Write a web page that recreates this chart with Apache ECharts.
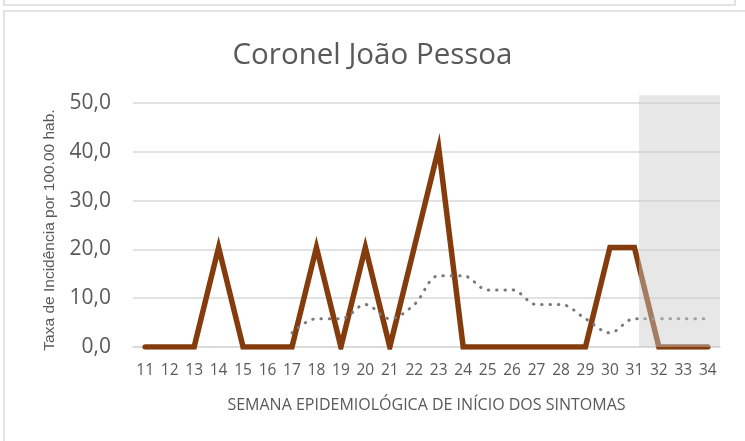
<!DOCTYPE html>
<html>
<head>
<meta charset="utf-8">
<script src="https://cdn.jsdelivr.net/npm/echarts@6/dist/echarts.min.js"></script>
<style>
  html, body { margin: 0; padding: 0; background: #ffffff; }
  #chart { width: 745px; height: 441px; }
</style>
</head>
<body>
<div id="chart"></div>
<script>
// Epidemiological weeks (x axis)
const weeks = ['11','12','13','14','15','16','17','18','19','20','21','22','23','24','25','26','27','28','29','30','31','32','33','34'];

// Weekly incidence rate per 100.000 inhabitants
const incidence = [0, 0, 0, 20.4, 0, 0, 0, 20.4, 0, 20.4, 0, 20.4, 40.8, 0, 0, 0, 0, 0, 0, 20.4, 20.4, 0, 0, 0];

// 7-week moving average (first six weeks have no value)
const movingAvg = [null, null, null, null, null, null, 2.9, 5.8, 5.8, 8.7, 5.8, 8.7, 14.6, 14.6, 11.7, 11.7, 8.7, 8.7, 5.8, 2.9, 5.8, 5.8, 5.8, 5.8];

// Y axis ticks
const yTicks = [0, 10, 20, 30, 40, 50];

// Weeks still under review (shaded band)
const shadeFrom = '31';
const shadeTop = 51.6;

const chart = echarts.init(document.getElementById('chart'), null, { renderer: 'canvas' });

const option = {
  animation: false,
  backgroundColor: '#ffffff',
  title: {
    text: 'Coronel João Pessoa',
    left: 'center',
    top: 36,
    textStyle: {
      fontFamily: 'Open Sans',
      fontSize: 29.5,
      fontWeight: 'normal',
      color: '#595959'
    }
  },
  grid: { left: 133, right: 25, top: 103, bottom: 94 },
  xAxis: {
    type: 'category',
    data: weeks,
    boundaryGap: true,
    name: 'SEMANA EPIDEMIOLÓGICA DE INÍCIO DOS SINTOMAS',
    nameLocation: 'middle',
    nameGap: 50,
    nameTextStyle: { fontFamily: 'Open Sans', fontSize: 16, color: '#595959' },
    axisLine: { show: true, lineStyle: { color: '#d9d9d9', width: 1.5 } },
    axisTick: { show: false },
    axisLabel: { interval: 0, margin: 16, fontFamily: 'Open Sans', fontSize: 15.5, color: '#595959' },
    splitLine: { show: false }
  },
  yAxis: {
    type: 'value',
    min: yTicks[0],
    max: yTicks[yTicks.length - 1],
    interval: 10,
    name: 'Taxa de Incidência por 100.00 hab.',
    nameLocation: 'middle',
    nameGap: 75,
    nameTextStyle: { fontFamily: 'Liberation Sans', fontSize: 15.5, color: '#595959', padding: [0, 10, 0, 0] },
    axisLine: { show: false },
    axisTick: { show: false },
    axisLabel: {
      margin: 22,
      fontFamily: 'Open Sans',
      fontSize: 21,
      color: '#595959',
      formatter: v => v.toFixed(1).replace('.', ',')
    },
    splitLine: { lineStyle: { color: '#d9d9d9', width: 1.5 } }
  },
  series: [
    {
      name: 'Taxa de incidência',
      type: 'line',
      data: incidence,
      symbol: 'none',
      z: 3,
      lineStyle: { color: '#843c0c', width: 5.5, cap: 'round', join: 'miter' }
    },
    {
      name: 'Média móvel (7 semanas)',
      type: 'line',
      data: movingAvg,
      symbol: 'none',
      smooth: 0.35,
      z: 4,
      lineStyle: { color: '#7a7a7a', width: 3, type: [0.5, 7.8], cap: 'round' }
    }
  ]
};

chart.setOption(option);

// Card frames plus the translucent band over the last weeks
function drawOverlay() {
  const xs = weeks.map(w => chart.convertToPixel({ xAxisIndex: 0 }, w));
  const band = xs[1] - xs[0];
  const x0 = chart.convertToPixel({ xAxisIndex: 0 }, shadeFrom) + band * 0.19;
  const x1 = xs[xs.length - 1] + band / 2;
  const yTop = chart.convertToPixel({ yAxisIndex: 0 }, shadeTop);
  const yBottom = chart.convertToPixel({ yAxisIndex: 0 }, 0);
  chart.setOption({
    graphic: [
      {
        type: 'rect', z: 100, silent: true,
        shape: { x: x0, y: yTop, width: x1 - x0, height: yBottom - yTop },
        style: { fill: 'rgba(202,202,202,0.45)' }
      },
      {
        type: 'rect', z: 0, silent: true,
        shape: { x: 4, y: -20, width: 731, height: 25 },
        style: { fill: 'none', stroke: '#d9d9d9', lineWidth: 1.5 }
      },
      {
        type: 'rect', z: 0, silent: true,
        shape: { x: 4, y: 11, width: 800, height: 500 },
        style: { fill: 'none', stroke: '#d9d9d9', lineWidth: 1.5 }
      }
    ]
  });
}
drawOverlay();
</script>
</body>
</html>
